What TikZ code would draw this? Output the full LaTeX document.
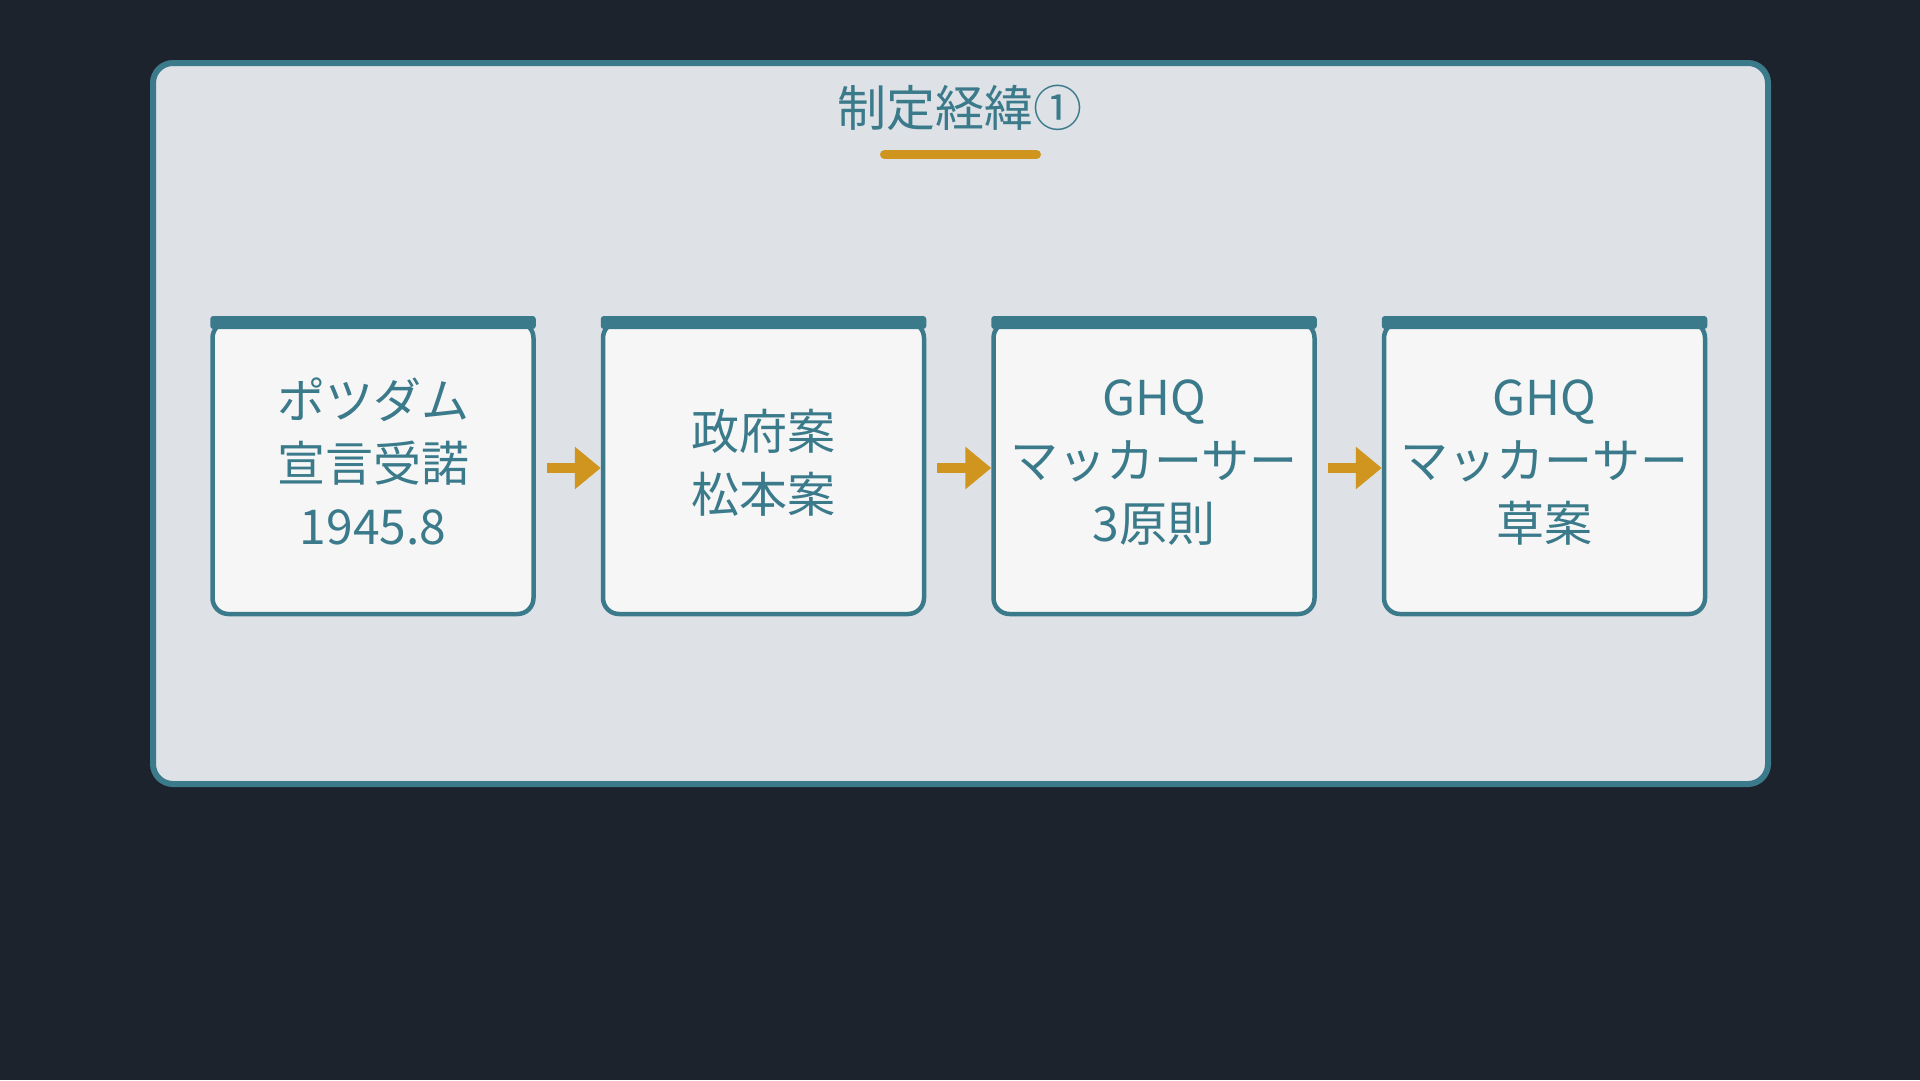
\documentclass[tikz,border=0pt]{standalone}
\usepackage{fontspec}
\setmainfont{Noto Sans CJK JP}
\usetikzlibrary{arrows.meta,positioning}
\definecolor{bgdark}{HTML}{1C232D}
\definecolor{panelgray}{HTML}{DEE1E6}
\definecolor{tealline}{HTML}{3A7A8A}
\definecolor{boxwhite}{HTML}{F6F6F6}
\definecolor{goldline}{HTML}{D0951F}

\begin{document}
\begin{tikzpicture}[x=1pt, y=-1pt,
  stepbox/.style={draw=tealline, fill=boxwhite, line width=4.5pt, rounded corners=16pt,
    minimum width=321pt, minimum height=292pt, inner sep=0pt, align=center,
    text=tealline, font=\fontsize{48}{63}\selectfont,
    execute at end node={\rule[-14pt]{0pt}{14pt}}},
  flowarrow/.style={goldline, line width=10pt, -{Triangle[length=26pt, width=41pt]}}]
  \useasboundingbox (0,0) rectangle (1920,1080);
  \fill[bgdark] (0,0) rectangle (1920,1080);
  \draw[tealline, fill=panelgray, line width=6pt, rounded corners=20pt] (153,63) rectangle (1768,784);

  % title
  \node[text=tealline, font=\fontsize{49}{60}\selectfont] (title) at (960,108) {制定経緯①};
  \draw[goldline, line width=9pt, line cap=round] (884.5,154.5) -- (1036.5,154.5);

  % steps
  \node[stepbox] (potsdam) at (373,468) {ポツダム\\宣言受諾\\1945.8};
  \node[stepbox, right=65pt of potsdam] (seifu) {政府案\\松本案};
  \node[stepbox, right=65pt of seifu] (ghq) {GHQ\\マッカーサー\\3原則};
  \node[stepbox, right=65pt of ghq] (soan) {GHQ\\マッカーサー\\草案};
  \foreach \b in {potsdam, seifu, ghq, soan}
    \fill[tealline, rounded corners=3pt] ([yshift=3.75pt]\b.north west) rectangle ([yshift=-9.25pt]\b.north east);

  \foreach \a/\b in {potsdam/seifu, seifu/ghq, ghq/soan}
    \draw[flowarrow] ([xshift=11pt]\a.east) -- (\b.west);
\end{tikzpicture}
\end{document}
